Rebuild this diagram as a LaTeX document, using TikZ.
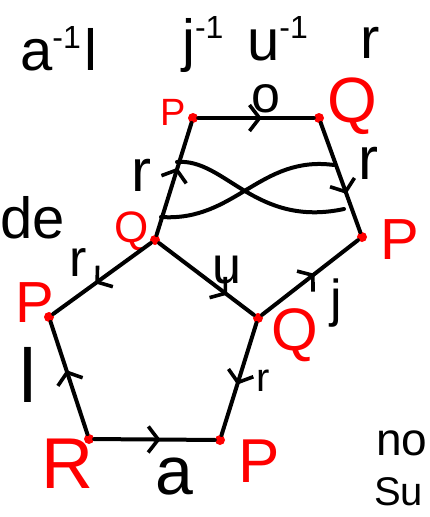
\documentclass[tikz,border=0pt]{standalone}
\usepackage{fontspec}
\setmainfont{Liberation Sans}
\usetikzlibrary{arrows.meta,decorations.markings}
\newcommand{\supinv}{\raisebox{22pt}{\fontsize{32}{32}\selectfont -1}}
\tikzset{vert/.style={circle,fill=red,inner sep=0pt,minimum size=10pt},vlab/.style={text=red,font=\fontsize{58}{58}\selectfont,inner sep=0pt},lab/.style={font=\fontsize{52}{52}\selectfont,inner sep=0pt},edge/.style={line width=4pt,line cap=round},mid/.style={postaction={decorate,decoration={markings,mark=at position #1 with {\arrow{Straight Barb[length=10pt,width=26pt,line width=3.6pt]}}}}},note/.style={font=\fontsize{58}{58}\selectfont,inner sep=0pt}}

\begin{document}
\begin{tikzpicture}[x=1pt,y=-1pt]
\useasboundingbox (0,0) rectangle (429,517);
% words round the sketch
\node[note,anchor=base west] (t1) at (20,70) {a\supinv\hspace{4pt}l};
\node[note,anchor=base west] (tj) at (182,60) {j\supinv};
\node[note,anchor=base west] (tu) at (247,60) {u\supinv};
\node[note,anchor=base west] (tr) at (360,58) {r};
\node[note,anchor=base west] (t3) at (0,238) {de};
\node[note,anchor=base west,font=\fontsize{46}{46}\selectfont] (t4) at (376,455) {no};
\node[note,anchor=base west,font=\fontsize{40}{40}\selectfont] (t5) at (374,505) {Su};
% vertices
\node[vert] (pt) at (193,118) {};
\node[vert] (qt) at (319,118) {};
\node[vert] (ql) at (155,240) {};
\node[vert] (pr) at (362,237) {};
\node[vert] (pl) at (49,317) {};
\node[vert] (qm) at (258,318) {};
\node[vert] (rb) at (89,439) {};
\node[vert] (pb) at (220,440) {};
\node[vlab,font=\fontsize{38}{38}\selectfont] (lpt) at (173,112) {P};
\node[vlab,font=\fontsize{64}{64}\selectfont] (lqt) at (352,106) {Q};
\node[vlab,font=\fontsize{44}{44}\selectfont] (lql) at (132,231) {Q};
\node[vlab] (lpr) at (400,240) {P};
\node[vlab] (lpl) at (35,303) {P};
\node[vlab,font=\fontsize{60}{60}\selectfont] (lqm) at (295,335) {Q};
\node[vlab,font=\fontsize{72}{72}\selectfont] (lrb) at (67,464) {R};
\node[vlab,font=\fontsize{62}{62}\selectfont] (lpb) at (259,461) {P};
% edges
\draw[edge,mid=0.55] (pt) -- (qt);
\draw[edge,mid=0.6] (ql) -- (pt);
\draw[edge,mid=0.65] (qt) -- (pr);
\draw[edge,mid=0.57] (ql) -- (pl);
\draw[edge,mid=0.72] (ql) -- (qm);
\draw[edge,mid=0.55] (qm) -- (pr);
\draw[edge,mid=0.55] (qm) -- (pb);
\draw[edge,mid=0.57] (rb) -- (pl);
\draw[edge,mid=0.55] (rb) -- (pb);
% edge letters
\node[lab] (eo) at (266,99) {o};
\node[lab,font=\fontsize{60}{60}\selectfont] (er1) at (141,175) {r};
\node[lab,font=\fontsize{60}{60}\selectfont] (er2) at (368,163) {r};
\node[lab] (er3) at (78,263) {r};
\node[lab] (eu) at (227,270) {u};
\node[lab] (ej) at (336,303) {j};
\node[lab,font=\fontsize{40}{40}\selectfont] (er4) at (263,381) {r};
\node[lab,font=\fontsize{76}{76}\selectfont] (el) at (28,375) {l};
\node[lab,font=\fontsize{68}{68}\selectfont] (ea) at (174,477) {a};
% twisted band
\coordinate (c1) at (177,162);
\coordinate (c2) at (344,209);
\coordinate (c3) at (161,217);
\coordinate (c4) at (334,165);
\draw[edge] (c1) .. controls (225,158) and (255,228) .. (c2);
\draw[edge] (c3) .. controls (235,222) and (260,155) .. (c4);
\end{tikzpicture}
\end{document}
